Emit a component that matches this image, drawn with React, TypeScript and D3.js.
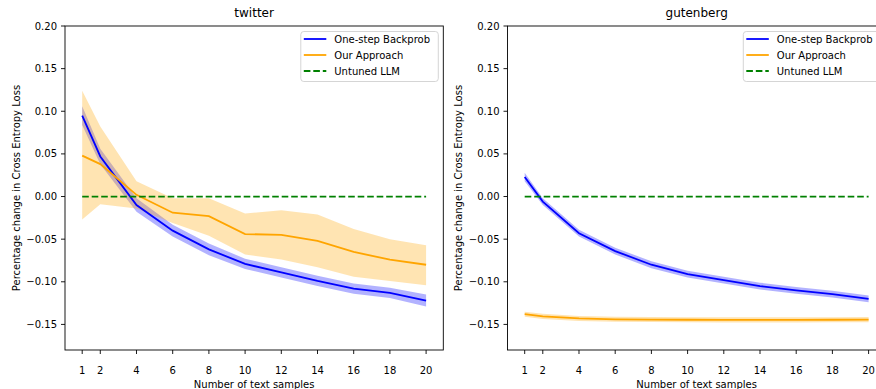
import React from "react";
import * as d3 from "d3";

// Number of text samples used for tuning
const samples = [1, 2, 4, 6, 8, 10, 12, 14, 16, 18, 20];
const yTicks = [0.2, 0.15, 0.1, 0.05, 0.0, -0.05, -0.1, -0.15];

// twitter
const twitterBackprob = [0.095, 0.047, -0.01, -0.04, -0.062, -0.079, -0.089, -0.099, -0.108, -0.113, -0.122];
const twitterBackprobSpread = [0.011, 0.009, 0.008, 0.007, 0.007, 0.006, 0.006, 0.006, 0.006, 0.006, 0.007];
const twitterOurs = [0.048, 0.038, 0.002, -0.019, -0.023, -0.044, -0.045, -0.052, -0.065, -0.074, -0.08];
const twitterOursLow = [-0.027, -0.009, -0.014, -0.031, -0.046, -0.068, -0.074, -0.083, -0.094, -0.099, -0.104];
const twitterOursHigh = [0.124, 0.082, 0.018, -0.002, -0.002, -0.02, -0.016, -0.021, -0.038, -0.05, -0.057];

// gutenberg
const gutenbergBackprob = [0.023, -0.006, -0.043, -0.064, -0.08, -0.091, -0.098, -0.105, -0.11, -0.1145, -0.12];
const gutenbergBackprobSpread = [0.005, 0.004, 0.004, 0.004, 0.004, 0.004, 0.004, 0.004, 0.004, 0.004, 0.004];
const gutenbergOurs = [-0.138, -0.1405, -0.143, -0.144, -0.1443, -0.1445, -0.1446, -0.1446, -0.1446, -0.1445, -0.1444];
const gutenbergOursSpread = [0.003, 0.003, 0.003, 0.003, 0.003, 0.003, 0.003, 0.003, 0.003, 0.003, 0.003];

const legendLabels = ["One-step Backprob", "Our Approach", "Untuned LLM"];

const BLUE = "#0000ff";
const ORANGE = "#ffa500";
const GREEN = "#008000";
const FONT = "DejaVu Sans, sans-serif";

type Panel = {
  title: string;
  left: number;
  right: number;
  backprob: number[];
  backprobLow: number[];
  backprobHigh: number[];
  ours: number[];
  oursLow: number[];
  oursHigh: number[];
  yLabelX: number;
};

const TOP = 26;
const BOTTOM = 350;

function PanelView({ p }: { p: Panel }) {
  const x = d3.scaleLinear().domain([0.05, 20.95]).range([p.left, p.right]);
  const y = d3.scaleLinear().domain([-0.18, 0.2]).range([BOTTOM, TOP]);
  const line = d3
    .line<number>()
    .x((_, i) => x(samples[i]))
    .y((d) => y(d));
  const band = (lo: number[], hi: number[]) =>
    d3
      .area<number>()
      .x((_, i) => x(samples[i]))
      .y0((_, i) => y(lo[i]))
      .y1((_, i) => y(hi[i]))(samples) as string;

  const cx = (p.left + p.right) / 2;
  const legRight = p.right - 5;
  const legLeft = legRight - 137.5;

  return (
    <g>
      <text x={cx} y={17} textAnchor="middle" fontSize={12} fill="#000">
        {p.title}
      </text>
      <defs>
        <clipPath id={`clip-${p.title}`}>
          <rect x={p.left} y={TOP} width={p.right - p.left} height={BOTTOM - TOP} />
        </clipPath>
      </defs>
      <g clipPath={`url(#clip-${p.title})`}>
        <path d={band(p.backprobLow, p.backprobHigh)} fill={BLUE} fillOpacity={0.3} />
        <path d={band(p.oursLow, p.oursHigh)} fill={ORANGE} fillOpacity={0.3} />
        <path d={line(p.backprob) as string} fill="none" stroke={BLUE} strokeWidth={1.8} />
        <path d={line(p.ours) as string} fill="none" stroke={ORANGE} strokeWidth={1.8} />
        <line
          x1={x(samples[0])}
          x2={x(samples[samples.length - 1])}
          y1={y(0)}
          y2={y(0)}
          stroke={GREEN}
          strokeWidth={1.8}
          strokeDasharray="6.6,2.9"
        />
      </g>
      <rect
        x={p.left}
        y={TOP}
        width={p.right - p.left}
        height={BOTTOM - TOP}
        fill="none"
        stroke="#000"
        strokeWidth={0.9}
      />
      {yTicks.map((t) => (
        <g key={t}>
          <line x1={p.left - 4} x2={p.left} y1={y(t)} y2={y(t)} stroke="#000" strokeWidth={0.9} />
          <text
            x={p.left - 8}
            y={y(t) + 3.6}
            textAnchor="end"
            fontSize={10}
            fill="#000"
          >
            {d3.format(".2f")(t).replace("-", "\u2212")}
          </text>
        </g>
      ))}
      {samples.map((s) => (
        <g key={s}>
          <line x1={x(s)} x2={x(s)} y1={BOTTOM} y2={BOTTOM + 4} stroke="#000" strokeWidth={0.9} />
          <text x={x(s)} y={BOTTOM + 24} textAnchor="middle" fontSize={10} fill="#000">
            {s}
          </text>
        </g>
      ))}
      <text x={cx} y={388} textAnchor="middle" fontSize={10} fill="#000">
        Number of text samples
      </text>
      <text
        transform={`translate(${p.yLabelX},${(TOP + BOTTOM) / 2}) rotate(-90)`}
        textAnchor="middle"
        fontSize={10}
        fill="#000"
      >
        Percentage change in Cross Entropy Loss
      </text>
      <g>
        <rect
          x={legLeft}
          y={31.5}
          width={137.5}
          height={50}
          rx={3}
          fill="#fff"
          fillOpacity={0.8}
          stroke="#d0d0d0"
          strokeWidth={0.9}
        />
        {legendLabels.map((lab, i) => {
          const ly = 39 + i * 16;
          const color = [BLUE, ORANGE, GREEN][i];
          return (
            <g key={lab}>
              <line
                x1={legLeft + 3}
                x2={legLeft + 25.5}
                y1={ly}
                y2={ly}
                stroke={color}
                strokeWidth={1.8}
                strokeDasharray={i === 2 ? "6.6,2.9" : undefined}
              />
              <text x={legLeft + 33.5} y={ly + 3.6} fontSize={10} fill="#000">
                {lab}
              </text>
            </g>
          );
        })}
      </g>
    </g>
  );
}

export default function App() {
  const panels: Panel[] = [
    {
      title: "twitter",
      left: 65,
      right: 443.3,
      backprob: twitterBackprob,
      backprobLow: twitterBackprob.map((v, i) => v - twitterBackprobSpread[i]),
      backprobHigh: twitterBackprob.map((v, i) => v + twitterBackprobSpread[i]),
      ours: twitterOurs,
      oursLow: twitterOursLow,
      oursHigh: twitterOursHigh,
      yLabelX: 19.5,
    },
    {
      title: "gutenberg",
      left: 507.5,
      right: 885.8,
      backprob: gutenbergBackprob,
      backprobLow: gutenbergBackprob.map((v, i) => v - gutenbergBackprobSpread[i]),
      backprobHigh: gutenbergBackprob.map((v, i) => v + gutenbergBackprobSpread[i]),
      ours: gutenbergOurs,
      oursLow: gutenbergOurs.map((v, i) => v - gutenbergOursSpread[i]),
      oursHigh: gutenbergOurs.map((v, i) => v + gutenbergOursSpread[i]),
      yLabelX: 462,
    },
  ];
  return (
    <svg
      width={876}
      height={389}
      style={{ position: "absolute", left: 0, top: 0, background: "#fff" }}
      fontFamily={FONT}
    >
      <rect width={876} height={389} fill="#fff" />
      {panels.map((p) => (
        <PanelView key={p.title} p={p} />
      ))}
    </svg>
  );
}
